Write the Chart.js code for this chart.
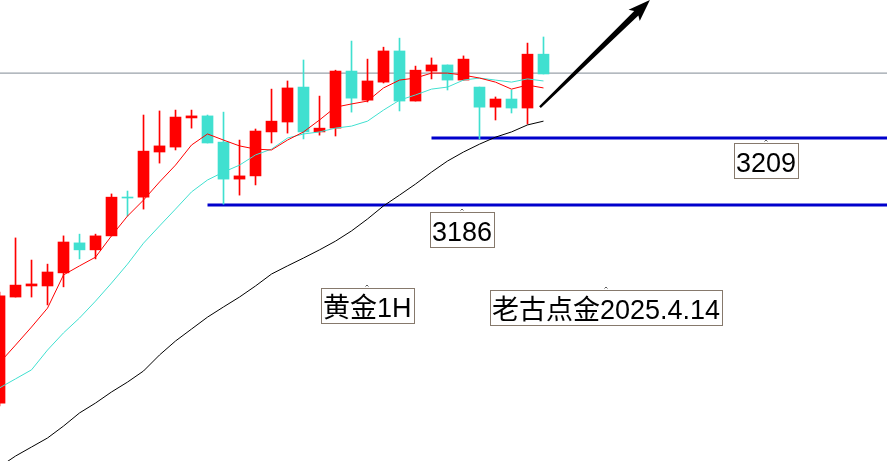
<!DOCTYPE html>
<html>
<head>
<meta charset="utf-8">
<title>黄金1H</title>
<script src="https://cdn.jsdelivr.net/npm/chart.js@4.4.1/dist/chart.umd.min.js"></script>
<style>
    html, body { margin: 0; padding: 0; background: #fff; overflow: hidden; }
    canvas { display: block; }
</style>
</head>
<body>
<canvas id="gold" width="887" height="461"></canvas>
<script>
// 1H candles, oldest first
var open  = [3118.0, 3154.4, 3158.2, 3158.2, 3162.7, 3173.0, 3170.6, 3175.4, 3188.7, 3188.7, 3204.2, 3205.9, 3215.9, 3216.6, 3207.6, 3194.9, 3196.0, 3211.1, 3214.5, 3226.5, 3211.1, 3212.4, 3232.0, 3222.0, 3228.2, 3238.9, 3221.7, 3232.0, 3234.1, 3228.9, 3226.5, 3219.6, 3222.4, 3219.3, 3237.8]
var high  = [3156.1, 3174.7, 3167.1, 3165.7, 3175.4, 3176.0, 3176.0, 3189.8, 3190.8, 3216.9, 3218.3, 3218.6, 3218.6, 3216.9, 3217.9, 3208.3, 3212.1, 3225.8, 3228.6, 3235.8, 3223.4, 3232.3, 3242.3, 3236.1, 3240.2, 3243.3, 3233.7, 3236.5, 3234.1, 3237.2, 3226.5, 3223.1, 3225.5, 3241.6, 3243.7]
var low   = [3117.0, 3154.4, 3154.4, 3151.7, 3157.9, 3167.5, 3167.5, 3175.4, 3182.2, 3184.6, 3200.4, 3204.9, 3212.4, 3207.3, 3186.3, 3189.4, 3192.9, 3207.3, 3210.7, 3208.7, 3210.0, 3209.7, 3217.9, 3221.4, 3227.9, 3218.3, 3221.7, 3229.3, 3225.5, 3228.9, 3208.7, 3215.2, 3217.6, 3213.8, 3231.0]
var close = [3154.8, 3158.5, 3158.9, 3163.0, 3173.3, 3170.6, 3175.4, 3188.7, 3188.4, 3204.5, 3206.3, 3216.2, 3216.6, 3207.3, 3194.9, 3196.0, 3211.4, 3214.8, 3226.2, 3211.1, 3212.4, 3232.0, 3222.7, 3228.6, 3238.9, 3221.7, 3232.3, 3234.1, 3228.9, 3236.1, 3219.6, 3222.4, 3219.3, 3237.8, 3231.0]

// moving averages
var maFast = [3131.8, 3137.9, 3144.1, 3150.6, 3162.0, 3165.1, 3168.1, 3175.4, 3182.2, 3187.7, 3193.9, 3199.7, 3206.6, 3210.4, 3208.3, 3206.3, 3205.2, 3204.9, 3208.3, 3211.1, 3215.2, 3219.6, 3220.7, 3221.7, 3226.2, 3228.9, 3229.6, 3231.3, 3231.3, 3230.6, 3229.6, 3228.2, 3225.8, 3227.2, 3226.2]
var maMid  = [3123.2, 3126.3, 3129.4, 3136.2, 3142.1, 3147.2, 3153.0, 3159.2, 3165.7, 3172.9, 3178.8, 3184.6, 3190.5, 3194.6, 3197.3, 3199.7, 3203.2, 3205.2, 3209.0, 3210.4, 3211.1, 3212.4, 3213.1, 3214.8, 3218.6, 3222.0, 3223.8, 3225.8, 3226.5, 3228.9, 3229.6, 3228.9, 3228.2, 3229.3, 3228.6]
var maSlow = [3096.1, 3099.8, 3102.9, 3106.0, 3110.1, 3114.6, 3118.0, 3121.8, 3125.2, 3129.0, 3134.5, 3139.3, 3143.4, 3147.5, 3151.0, 3154.4, 3158.2, 3162.3, 3165.1, 3167.8, 3170.6, 3173.6, 3177.1, 3181.2, 3185.7, 3189.4, 3193.2, 3197.3, 3201.1, 3204.2, 3206.9, 3209.3, 3211.1, 3213.5, 3214.8]

// support levels and the bar each one starts from
var levels = [3209, 3186]
var levelFrom = [27, 13]
var lastPrice = 3231.3

var xMin = 0.03, xMax = 55.47
var yMin = 3098.1, yMax = 3256.4

var UP = '#ff0000', DOWN = '#40e0d0'

function candleColor(c) {
    var i = c.dataIndex
    return close[i] >= open[i] ? UP : DOWN
}

function series(values) {
    return values.map(function(v, i) { return { x: i, y: v } })
}

function level(v, from) {
    return [{ x: from, y: v }, { x: xMax, y: v }]
}

var notes = [
    { text: String(levels[0]), at: [47.9, 3208.0] },
    { text: String(levels[1]), at: [28.9, 3184.3] },
    { text: '黄金1H', at: [22.97, 3158.2] },
    { text: '老古点金2025.4.14', at: [37.9, 3157.6] }
]
var arrow = { from: [33.78, 3219.6], to: [40.65, 3256.4] }

function drawArrow(ctx, x0, y0, x1, y1) {
    var dx = x1 - x0, dy = y1 - y0
    var len = Math.sqrt(dx * dx + dy * dy)
    var ux = dx / len, uy = dy / len, nx = -uy, ny = ux
    var head = 19, wing = 8, tail = 1.2, neck = 3
    var bx = x1 - ux * head, by = y1 - uy * head
    var wx = x1 - ux * (head + 3), wy = y1 - uy * (head + 3)
    ctx.beginPath()
    ctx.moveTo(x0 + nx * tail, y0 + ny * tail)
    ctx.lineTo(bx + nx * neck, by + ny * neck)
    ctx.lineTo(wx + nx * wing, wy + ny * wing)
    ctx.lineTo(x1, y1)
    ctx.lineTo(wx - nx * wing, wy - ny * wing)
    ctx.lineTo(bx - nx * neck, by - ny * neck)
    ctx.lineTo(x0 - nx * tail, y0 - ny * tail)
    ctx.closePath()
    ctx.fillStyle = '#000'
    ctx.fill()
}

var overlay = {
    id: 'overlay',
    afterDatasetsDraw: function(chart) {
        var ctx = chart.ctx, sx = chart.scales.x, sy = chart.scales.y

        ctx.save()
        drawArrow(ctx,
            sx.getPixelForValue(arrow.from[0]), sy.getPixelForValue(arrow.from[1]),
            sx.getPixelForValue(arrow.to[0]), sy.getPixelForValue(arrow.to[1]))

        ctx.font = '27px "Liberation Sans", "Noto Sans CJK SC", sans-serif'
        ctx.textBaseline = 'alphabetic'
        notes.forEach(function(n) {
            var ax = Math.round(sx.getPixelForValue(n.at[0]))
            var ay = Math.round(sy.getPixelForValue(n.at[1]))
            var w = Math.round(ctx.measureText(n.text).width) + 4
            var left = Math.round(ax - w / 2)
            var top = ay + 2

            // anchor tick
            ctx.strokeStyle = '#5a5a5a'
            ctx.lineWidth = 1
            ctx.beginPath()
            ctx.moveTo(ax - 1.5, ay + 0.5)
            ctx.lineTo(ax, ay - 1)
            ctx.lineTo(ax + 1.5, ay + 0.5)
            ctx.stroke()

            ctx.strokeStyle = '#86796c'
            ctx.strokeRect(left + 0.5, top + 0.5, w, 35)
            ctx.fillStyle = '#000'
            ctx.fillText(n.text, left + 2, top + 29)
        })
        ctx.restore()
    }
}

new Chart(document.getElementById('gold'), {
    type: 'bar',
    data: {
        datasets: [{
            type: 'line',
            data: series(maFast),
            borderColor: UP,
            borderWidth: 1,
            pointRadius: 0,
            order: 0
        }, {
            type: 'line',
            data: series(maMid),
            borderColor: DOWN,
            borderWidth: 1,
            pointRadius: 0,
            order: 0
        }, {
            type: 'line',
            data: series(maSlow),
            borderColor: '#000000',
            borderWidth: 1,
            pointRadius: 0,
            order: 0
        }, {
            // bodies
            data: open.map(function(o, i) { return { x: i, y: [o, close[i]] } }),
            backgroundColor: candleColor,
            barThickness: 11,
            minBarLength: 1,
            grouped: false,
            order: 1
        }, {
            // wicks
            data: open.map(function(o, i) { return { x: i, y: [low[i], high[i]] } }),
            backgroundColor: candleColor,
            barThickness: 1,
            grouped: false,
            order: 2
        }, {
            type: 'line',
            data: level(lastPrice, xMin),
            borderColor: '#808a94',
            borderWidth: 1,
            pointRadius: 0,
            order: 3
        }, {
            type: 'line',
            data: level(levels[0], levelFrom[0]),
            borderColor: '#0000cc',
            borderWidth: 3,
            pointRadius: 0,
            order: 3
        }, {
            type: 'line',
            data: level(levels[1], levelFrom[1]),
            borderColor: '#0000cc',
            borderWidth: 3,
            pointRadius: 0,
            order: 3
        }]
    },
    options: {
        responsive: false,
        animation: false,
        layout: { padding: 0 },
        plugins: {
            legend: { display: false },
            tooltip: { enabled: false }
        },
        scales: {
            x: { type: 'linear', min: xMin, max: xMax, offset: false, display: false },
            y: { min: yMin, max: yMax, display: false }
        }
    },
    plugins: [overlay]
})
</script>
</body>
</html>
